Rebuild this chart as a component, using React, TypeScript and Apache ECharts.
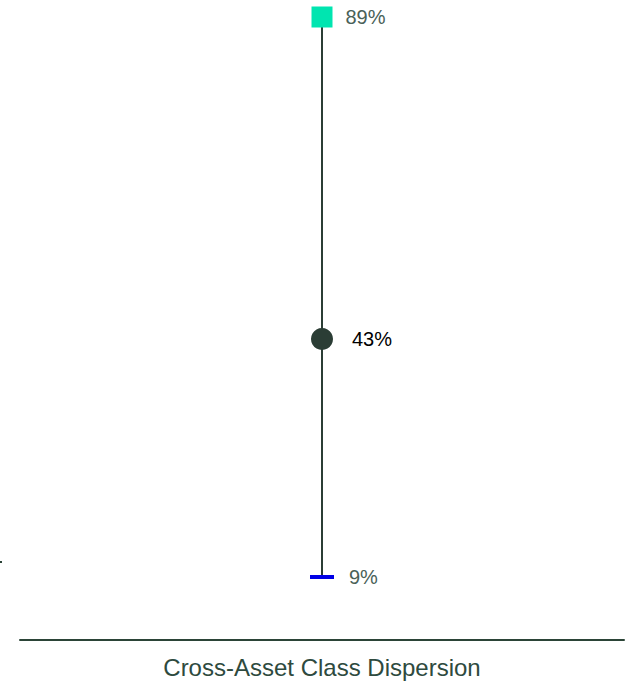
import React, { useEffect, useRef } from "react";
import * as echarts from "echarts";

const categories = ["Cross-Asset Class Dispersion"];
const highValues = [89];
const currentValues = [43];
const lowValues = [9];

export default function App() {
  const ref = useRef<HTMLDivElement>(null);
  useEffect(() => {
    if (!ref.current) return;
    const chart = echarts.init(ref.current, null, { renderer: "svg" });
    const font = "'Liberation Sans', Arial, Helvetica, sans-serif";
    chart.setOption({
      animation: false,
      grid: { left: 20, right: 5, top: 10, bottom: 41, containLabel: false },
      xAxis: {
        type: "category",
        data: categories,
        axisLine: { show: true, lineStyle: { color: "#2b4437", width: 2 } },
        axisTick: { show: false },
        axisLabel: { color: "#2e4a3e", fontSize: 24, fontFamily: font, margin: 15 },
      },
      yAxis: {
        type: "value",
        min: 0,
        max: 90,
        show: false,
      },
      graphic: [
        { type: "rect", shape: { x: 0, y: 561, width: 2, height: 2 }, style: { fill: "#2b4437" } },
      ],
      series: [
        {
          type: "custom",
          data: categories.map((c, i) => [i, lowValues[i], highValues[i]]),
          renderItem: (params: any, api: any) => {
            const p1 = api.coord([api.value(0), api.value(1)]);
            const p2 = api.coord([api.value(0), api.value(2)]);
            return {
              type: "line",
              shape: { x1: p1[0], y1: p1[1], x2: p2[0], y2: p2[1] },
              style: { stroke: "#2b3d35", lineWidth: 2 },
            };
          },
          z: 1,
        },
        {
          type: "scatter",
          data: highValues,
          symbol: "rect",
          symbolSize: 21,
          itemStyle: { color: "#00e5b0", opacity: 1 },
          label: {
            show: true,
            position: "right",
            distance: 13,
            formatter: (p: any) => p.value + "%",
            color: "#4a6158",
            fontSize: 20,
            fontFamily: font,
          },
          z: 3,
        },
        {
          type: "scatter",
          data: currentValues,
          symbol: "circle",
          symbolSize: 22,
          itemStyle: { color: "#2b3d35", opacity: 1 },
          label: {
            show: true,
            position: "right",
            distance: 19,
            formatter: (p: any) => p.value + "%",
            color: "#000000",
            fontSize: 20,
            fontFamily: font,
          },
          z: 3,
        },
        {
          type: "scatter",
          data: lowValues,
          symbol: "rect",
          symbolSize: [24, 4],
          itemStyle: { color: "#0000e6", opacity: 1 },
          label: {
            show: true,
            position: "right",
            distance: 15,
            formatter: (p: any) => p.value + "%",
            color: "#4a6158",
            fontSize: 20,
            fontFamily: font,
          },
          z: 3,
        },
      ],
    });
    return () => chart.dispose();
  }, []);
  return (
    <div
      ref={ref}
      style={{ position: "fixed", left: 0, top: 0, width: 629, height: 681, background: "#ffffff" }}
    />
  );
}
